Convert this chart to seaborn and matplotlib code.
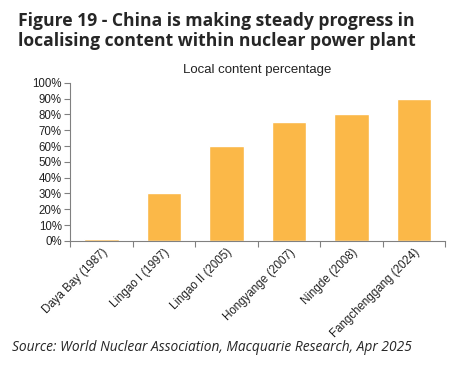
import numpy as np
import pandas as pd
import matplotlib.pyplot as plt
import seaborn as sns
from matplotlib.ticker import FixedLocator, PercentFormatter

# Local content share of Chinese nuclear plants
plants = ["Daya Bay (1987)", "Lingao I (1997)", "Lingao II (2005)",
          "Hongyange (2007)", "Ningde (2008)", "Fangchenggang (2024)"]
local_pct = [1, 30, 60, 75, 80, 90]

df = pd.DataFrame({"Plant": plants, "Pct": local_pct})

sns.set_style("white")
plt.rcParams["font.family"] = ["Liberation Sans", "DejaVu Sans"]

fig = plt.figure(figsize=(4.58, 3.65), dpi=100)
ax = fig.add_axes([0.153, 0.340, 0.819, 0.433])

sns.barplot(data=df, x="Plant", y="Pct", color="#FBB848", width=0.55,
            saturation=1, ax=ax)

ax.set_ylim(0, 100)
ax.set_xlim(-0.5, len(plants) - 0.5)
ax.set_yticks(np.arange(0, 101, 10))
ax.yaxis.set_major_formatter(PercentFormatter(decimals=0))
ax.set_xlabel("")
ax.set_ylabel("")

# Excel style: ticks sit between the categories
ax.xaxis.set_minor_locator(FixedLocator(np.arange(-0.5, len(plants), 1)))
ax.tick_params(axis="x", which="major", length=0, pad=4)
ax.tick_params(axis="x", which="minor", length=4, width=0.8, color="#808080", bottom=True)
ax.tick_params(axis="y", length=4, width=0.8, color="#808080", left=True, pad=2)
ax.tick_params(labelsize=8.3, labelcolor="#222222")
plt.setp(ax.get_xticklabels(), rotation=45, ha="right", rotation_mode="anchor")

for side in ["top", "right"]:
    ax.spines[side].set_visible(False)
for side in ["left", "bottom"]:
    ax.spines[side].set_color("#808080")
    ax.spines[side].set_linewidth(0.8)

ax.set_title("Local content percentage", fontsize=9.5, pad=7, color="#222222")

fig.text(0.04, 0.968, "Figure 19 - China is making steady progress in\n"
         "localising content within nuclear power plant",
         fontsize=12.6, fontweight="bold", family=["Open Sans", "DejaVu Sans"],
         va="top", ha="left", linespacing=1.2)
fig.text(0.026, 0.027, "Source: World Nuclear Association, Macquarie Research, Apr 2025",
         fontsize=9.9, style="italic", family=["Open Sans", "DejaVu Sans"],
         va="bottom", ha="left")

fig.savefig("out.png", dpi=100)
